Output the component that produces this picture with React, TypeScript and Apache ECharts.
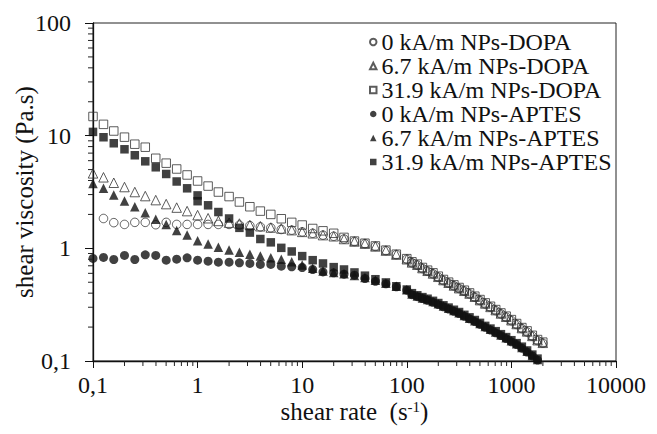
import React, { useEffect, useRef } from 'react';
import * as echarts from 'echarts';

const FONT = 'Liberation Serif';

// shear rate (s^-1): 10 points per decade up to 100, then 20 per decade
const rateLow = [0.1, 0.126, 0.158, 0.2, 0.251, 0.316, 0.398, 0.501, 0.631, 0.794, 1, 1.26, 1.58, 2, 2.51, 3.16, 3.98, 5.01, 6.31, 7.94, 10, 12.6, 15.8, 20, 25.1, 31.6, 39.8, 50.1, 63.1, 79.4, 100];
const rateHigh = [112, 126, 141, 158, 178, 200, 224, 251, 282, 316, 355, 398, 447, 501, 562, 631, 708, 794, 891, 1000, 1122, 1259, 1413, 1585, 1778, 1995];

// NPs-DOPA, 0 kA/m (starts at 0.126)
const dopa0Low = [1.84, 1.69, 1.63, 1.70, 1.70, 1.62, 1.70, 1.63, 1.63, 1.63, 1.63, 1.63, 1.63, 1.61, 1.59, 1.55, 1.52, 1.47, 1.45, 1.40, 1.36, 1.31, 1.28, 1.21, 1.15, 1.10, 1.04, 0.955, 0.88, 0.80];
const dopa0High = [0.744, 0.71, 0.662, 0.627, 0.594, 0.555, 0.518, 0.491, 0.465, 0.44, 0.417, 0.394, 0.368, 0.344, 0.321, 0.30, 0.28, 0.262, 0.245, 0.228, 0.211, 0.194, 0.181, 0.166, 0.152, 0.144];
// NPs-DOPA, 6.7 kA/m
const dopa67Low = [4.63, 4.27, 3.82, 3.50, 3.16, 2.91, 2.68, 2.47, 2.30, 2.14, 1.97, 1.85, 1.75, 1.69, 1.66, 1.61, 1.57, 1.53, 1.50, 1.45, 1.40, 1.36, 1.31, 1.28, 1.21, 1.15, 1.10, 1.04, 0.955, 0.88, 0.80];
const dopa67High = [0.75, 0.715, 0.668, 0.632, 0.598, 0.559, 0.523, 0.495, 0.468, 0.443, 0.42, 0.397, 0.372, 0.347, 0.324, 0.302, 0.283, 0.264, 0.247, 0.23, 0.213, 0.196, 0.183, 0.167, 0.153, 0.145];
// NPs-DOPA, 31.9 kA/m
const dopa319Low = [14.8, 12.6, 11.0, 9.7, 8.4, 7.9, 6.3, 5.7, 5.06, 4.48, 3.96, 3.57, 3.16, 2.88, 2.58, 2.34, 2.14, 2.0, 1.83, 1.70, 1.61, 1.50, 1.43, 1.36, 1.25, 1.16, 1.11, 1.05, 0.964, 0.887, 0.81];
const dopa319High = [0.759, 0.724, 0.676, 0.640, 0.606, 0.566, 0.529, 0.501, 0.474, 0.449, 0.425, 0.402, 0.376, 0.351, 0.328, 0.306, 0.286, 0.267, 0.250, 0.233, 0.215, 0.198, 0.185, 0.169, 0.155, 0.147];
// NPs-APTES, 0 kA/m (ends at 1778)
const aptes0Low = [0.813, 0.830, 0.796, 0.865, 0.796, 0.875, 0.865, 0.785, 0.802, 0.824, 0.785, 0.769, 0.754, 0.754, 0.743, 0.734, 0.719, 0.719, 0.695, 0.685, 0.676, 0.649, 0.618, 0.606, 0.590, 0.578, 0.540, 0.51, 0.485, 0.455, 0.425];
const aptes0High = [0.388, 0.372, 0.358, 0.346, 0.332, 0.317, 0.303, 0.289, 0.276, 0.264, 0.249, 0.237, 0.224, 0.211, 0.199, 0.188, 0.178, 0.168, 0.158, 0.148, 0.140, 0.130, 0.120, 0.111, 0.102];
// NPs-APTES, 6.7 kA/m
const aptes67Low = [3.76, 3.41, 2.97, 2.63, 2.34, 2.07, 1.81, 1.63, 1.44, 1.31, 1.17, 1.09, 1.02, 0.968, 0.921, 0.888, 0.856, 0.826, 0.798, 0.762, 0.71, 0.665, 0.63, 0.61, 0.595, 0.575, 0.55, 0.52, 0.49, 0.46, 0.43];
const aptes67High = [0.394, 0.377, 0.363, 0.352, 0.337, 0.322, 0.307, 0.294, 0.281, 0.268, 0.253, 0.240, 0.228, 0.215, 0.202, 0.191, 0.181, 0.170, 0.161, 0.151, 0.142, 0.132, 0.122, 0.112, 0.103];
// NPs-APTES, 31.9 kA/m
const aptes319Low = [10.8, 9.68, 8.56, 7.57, 6.70, 5.92, 5.24, 4.57, 3.92, 3.41, 2.95, 2.41, 2.10, 1.84, 1.52, 1.38, 1.21, 1.13, 1.01, 0.938, 0.853, 0.785, 0.734, 0.681, 0.649, 0.611, 0.572, 0.532, 0.498, 0.461, 0.431];
const aptes319High = [0.40, 0.383, 0.369, 0.357, 0.342, 0.327, 0.312, 0.298, 0.285, 0.272, 0.257, 0.244, 0.231, 0.218, 0.205, 0.194, 0.184, 0.173, 0.163, 0.153, 0.144, 0.134, 0.124, 0.114, 0.105];
const aptes319Extra = [[1, 2.62]];

const seriesNames = [
  '0 kA/m NPs-DOPA',
  '6.7 kA/m NPs-DOPA',
  '31.9 kA/m NPs-DOPA',
  '0 kA/m NPs-APTES',
  '6.7 kA/m NPs-APTES',
  '31.9 kA/m NPs-APTES',
];

const zip = (xs: number[], ys: number[]) => ys.map((y, i) => [xs[i], y]);
const allRates = rateLow.concat(rateHigh);

const fmt = (v: number) => String(+Number(v).toPrecision(6)).replace('.', ',');

export default function App() {
  const ref = useRef<HTMLDivElement>(null);
  useEffect(() => {
    if (!ref.current) return;
    const chart = echarts.init(ref.current, null, { renderer: 'svg' });

    const xMinor: number[][] = [];
    for (let e = -1; e < 4; e++) for (let k = 2; k <= 9; k++) xMinor.push([k * Math.pow(10, e), 0.1]);
    const yMinor: number[][] = [];
    for (let e = -1; e < 2; e++) for (let k = 2; k <= 9; k++) yMinor.push([0.1, k * Math.pow(10, e)]);

    const open = { color: 'rgba(255,255,255,0)', borderColor: '#333', borderWidth: 1 };
    const filled = { color: '#111', borderColor: '#111', borderWidth: 0 };

    const dataSets = [
      zip(rateLow.slice(1), dopa0Low).concat(zip(rateHigh, dopa0High)),
      zip(allRates, dopa67Low.concat(dopa67High)),
      zip(allRates, dopa319Low.concat(dopa319High)),
      zip(allRates, aptes0Low.concat(aptes0High)),
      zip(allRates, aptes67Low.concat(aptes67High)),
      zip(allRates, aptes319Low.concat(aptes319High)).concat(aptes319Extra),
    ];
    const symbols = ['circle', 'triangle', 'rect', 'circle', 'triangle', 'rect'];
    const sizes = [8.5, 9.5, 8.5, 9, 9.5, 8.5];

    const scatter = seriesNames.map((name, i) => ({
      type: 'scatter',
      name,
      data: dataSets[i],
      symbol: symbols[i],
      symbolSize: sizes[i],
      itemStyle: i < 3 ? open : filled,
      z: i < 3 ? 2 : 3,
    }));

    const tickStyle = { stroke: '#222', lineWidth: 1 };

    chart.setOption({
      animation: false,
      backgroundColor: '#fff',
      textStyle: { fontFamily: FONT },
      grid: { left: 93, top: 23, right: 41, bottom: 73, show: true, borderColor: '#222', borderWidth: 1 },
      xAxis: {
        type: 'log',
        logBase: 10,
        min: 0.1,
        max: 10000,
        axisLine: { show: true, onZero: false, lineStyle: { color: '#111', width: 1.3 } },
        axisTick: { show: true, length: 7, lineStyle: { color: '#111' } },
        splitLine: { show: false },
        minorTick: { show: false },
        axisLabel: { fontFamily: FONT, fontSize: 24, color: '#111', margin: 12, formatter: fmt },
        name: 'shear rate  (s{sup|-1})',
        nameLocation: 'middle',
        nameGap: 38,
        nameMoveOverlap: false,
        nameTextStyle: {
          fontFamily: FONT,
          fontSize: 25,
          color: '#111',
          rich: { sup: { fontFamily: FONT, fontSize: 15, color: '#111', verticalAlign: 'top', padding: [0, 0, 10, 0] } },
        },
      },
      yAxis: {
        type: 'log',
        logBase: 10,
        min: 0.1,
        max: 100,
        axisLine: { show: true, onZero: false, lineStyle: { color: '#111', width: 1.3 } },
        axisTick: { show: true, length: 8, lineStyle: { color: '#111' } },
        splitLine: { show: false },
        minorTick: { show: false },
        axisLabel: { fontFamily: FONT, fontSize: 24, color: '#111', margin: 22, formatter: fmt },
        name: 'shear viscosity (Pa.s)',
        nameLocation: 'middle',
        nameGap: 56,
        nameMoveOverlap: false,
        nameTextStyle: { fontFamily: FONT, fontSize: 25, color: '#111' },
      },
      legend: {
        orient: 'vertical',
        left: 364,
        top: 25,
        padding: 5,
        itemWidth: 6.5,
        itemHeight: 6.5,
        itemGap: 0,
        selectedMode: false,
        data: seriesNames,
        textStyle: { fontFamily: FONT, fontSize: 24, color: '#111', lineHeight: 23.3 },
      },
      series: [
        ...scatter,
        {
          type: 'custom',
          silent: true,
          clip: false,
          data: xMinor,
          z: 5,
          renderItem: (_p: any, api: any) => {
            const p = api.coord([api.value(0), api.value(1)]);
            return { type: 'line', shape: { x1: p[0], y1: p[1], x2: p[0], y2: p[1] + 5 }, style: tickStyle };
          },
        },
        {
          type: 'custom',
          silent: true,
          clip: false,
          data: yMinor,
          z: 5,
          renderItem: (_p: any, api: any) => {
            const p = api.coord([api.value(0), api.value(1)]);
            return { type: 'line', shape: { x1: p[0] - 5, y1: p[1], x2: p[0], y2: p[1] }, style: tickStyle };
          },
        },
      ],
    });
    return () => chart.dispose();
  }, []);
  return <div ref={ref} style={{ position: 'absolute', left: 0, top: 0, width: 657, height: 434, background: '#fff' }} />;
}
